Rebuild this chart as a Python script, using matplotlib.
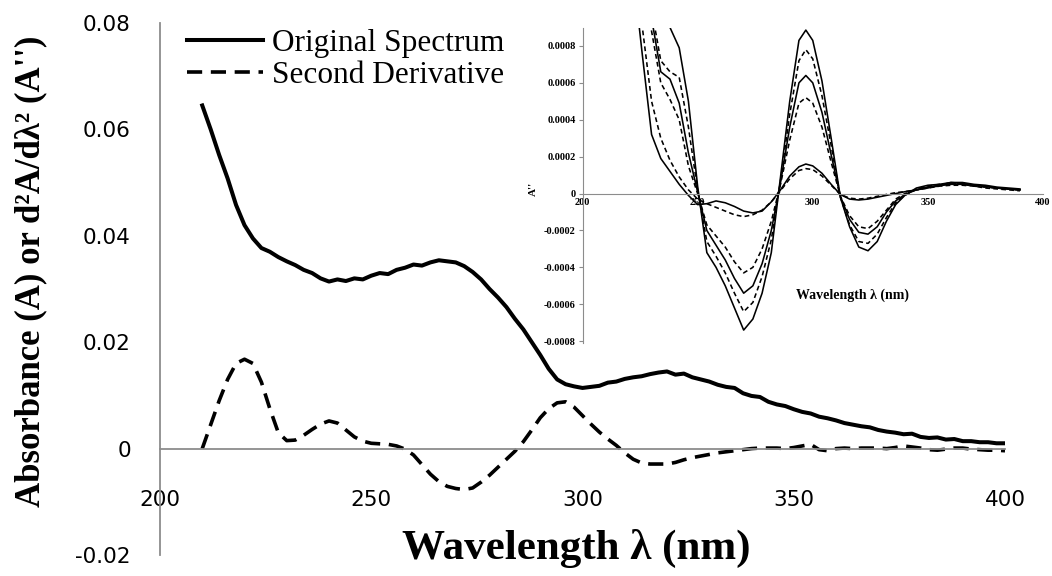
import numpy as np
import matplotlib
matplotlib.use("Agg")
import matplotlib.pyplot as plt
from matplotlib.lines import Line2D

plt.rcParams["axes.unicode_minus"] = False

# ---- main spectrum (absorbance) and its second derivative, 2 nm steps ----
wavelength = np.arange(210, 401, 2)
absorbance = [
    0.0645, 0.0600, 0.0552, 0.0508, 0.0458, 0.0420, 0.0395, 0.0377, 0.0370, 0.0360,
    0.0352, 0.0345, 0.0336, 0.0330, 0.0320, 0.0314, 0.0318, 0.0315, 0.0320, 0.0318,
    0.0325, 0.0330, 0.0328, 0.0336, 0.0340, 0.0346, 0.0344, 0.0350, 0.0354, 0.0352,
    0.0350, 0.0343, 0.0332, 0.0318, 0.0300, 0.0284, 0.0266, 0.0244, 0.0224, 0.0200,
    0.0176, 0.0150, 0.0130, 0.0121, 0.0117, 0.0114, 0.0116, 0.0118, 0.0124, 0.0126,
    0.0131, 0.0134, 0.0136, 0.0140, 0.0143, 0.0145, 0.0139, 0.0141, 0.0134, 0.0130,
    0.0126, 0.0120, 0.0116, 0.0114, 0.0104, 0.0099, 0.0097, 0.0088, 0.0083, 0.0080,
    0.0074, 0.0069, 0.0066, 0.0060, 0.0057, 0.0053, 0.0048, 0.0045, 0.0042, 0.0040,
    0.0035, 0.0032, 0.0030, 0.0027, 0.0028, 0.0022, 0.0020, 0.0021, 0.0017, 0.0018,
    0.0014, 0.0014, 0.0012, 0.0012, 0.0010, 0.0010,
]
second_deriv = [
    0.0000, 0.0045, 0.0090, 0.0130, 0.0160, 0.0168, 0.0160, 0.0125, 0.0075, 0.0030,
    0.0015, 0.0016, 0.0025, 0.0036, 0.0046, 0.0052, 0.0048, 0.0035, 0.0022, 0.0014,
    0.0010, 0.0009, 0.0008, 0.0005, -0.0001, -0.0012, -0.0030, -0.0048, -0.0062, -0.0071,
    -0.0075, -0.0077, -0.0074, -0.0063, -0.0050, -0.0035, -0.0020, -0.0005, 0.0013, 0.0035,
    0.0058, 0.0075, 0.0086, 0.0088, 0.0078, 0.0062, 0.0046, 0.0031, 0.0018, 0.0006,
    -0.0008, -0.0020, -0.0027, -0.0029, -0.0029, -0.0029, -0.0026, -0.0021, -0.0017, -0.0014,
    -0.0011, -0.0008, -0.0006, -0.0004, -0.0002, 0.0000, 0.0001, 0.0001, 0.0001, 0.0000,
    0.0002, 0.0005, 0.0008, -0.0002, -0.0004, 0.0000, 0.0001, 0.0000, 0.0001, 0.0001,
    0.0001, 0.0000, 0.0002, 0.0005, 0.0003, 0.0001, -0.0002, -0.0003, -0.0001, 0.0001,
    0.0001, -0.0001, -0.0002, -0.0003, -0.0003, -0.0004,
]

main_xticks = [200, 250, 300, 350, 400]
main_yticks = [-0.02, 0, 0.02, 0.04, 0.06, 0.08]
main_ylabels = ["-0.02", "0", "0.02", "0.04", "0.06", "0.08"]
legend_labels = ["Original Spectrum", "Second Derivative"]

# ---- inset: second derivatives of three samples (units of 1e-4) ----
inset_wl = [222, 226, 230, 234, 238, 242, 246, 250, 254, 258, 262, 266, 270, 274,
            278, 282, 286, 290, 294, 297, 300, 304, 308, 312, 316, 320, 324, 328,
            332, 336, 340, 345, 350, 355, 360, 365, 370, 375, 380, 385, 390]
solid_large = [20, 18, 15, 10.5, 9.0, 7.9, 5.0, 0.4, -3.2, -4.0, -5.0, -6.2, -7.4, -6.8,
               -5.4, -3.2, 0.9, 5.0, 8.3, 8.86, 8.3, 6.1, 3.0, -0.2, -1.8, -2.9, -3.1, -2.6,
               -1.5, -0.6, -0.1, 0.3, 0.45, 0.5, 0.6, 0.55, 0.45, 0.4, 0.3, 0.25, 0.2]
dashed_large = [17, 14, 10, 7.2, 6.6, 6.3, 3.6, 0.2, -2.6, -3.4, -4.3, -5.4, -6.4, -5.9,
                -4.5, -2.5, 0.7, 4.3, 7.2, 7.8, 7.3, 5.3, 2.6, -0.2, -1.7, -2.6, -2.7, -2.2,
                -1.3, -0.5, -0.1, 0.25, 0.4, 0.5, 0.55, 0.5, 0.45, 0.35, 0.3, 0.25, 0.2]
solid_mid = [16, 12.5, 9.5, 6.6, 6.2, 4.9, 2.2, 0.1, -2.0, -2.8, -3.6, -4.6, -5.4, -5.0,
             -3.8, -2.0, 0.6, 3.6, 6.0, 6.4, 6.0, 4.4, 2.1, -0.15, -1.4, -2.1, -2.2, -1.8,
             -1.0, -0.4, -0.05, 0.2, 0.35, 0.45, 0.5, 0.5, 0.45, 0.4, 0.3, 0.25, 0.2]
dashed_mid = [15, 11.5, 8.8, 6.0, 5.1, 4.0, 1.5, 0.0, -1.7, -2.3, -2.9, -3.7, -4.3, -4.0,
              -3.0, -1.5, 0.5, 2.9, 4.9, 5.2, 4.9, 3.6, 1.7, -0.15, -1.2, -1.8, -1.9, -1.5,
              -0.9, -0.3, 0.0, 0.2, 0.35, 0.4, 0.55, 0.5, 0.4, 0.35, 0.3, 0.25, 0.2]
solid_small = [12, 7.5, 3.2, 1.9, 1.2, 0.5, -0.1, -0.6, -0.55, -0.4, -0.5, -0.7, -0.95, -1.05,
               -0.95, -0.45, 0.2, 0.95, 1.45, 1.6, 1.5, 1.1, 0.5, -0.05, -0.3, -0.35, -0.3, -0.2,
               -0.1, 0.0, 0.1, 0.2, 0.3, 0.45, 0.6, 0.6, 0.5, 0.45, 0.35, 0.3, 0.25]
dashed_small = [12, 9, 5.0, 3.0, 1.8, 0.9, 0.2, -0.3, -0.55, -0.75, -0.95, -1.15, -1.25, -1.15,
                -0.9, -0.45, 0.15, 0.8, 1.25, 1.35, 1.3, 0.95, 0.45, -0.05, -0.25, -0.3, -0.25, -0.15,
                -0.05, 0.05, 0.1, 0.2, 0.3, 0.4, 0.45, 0.45, 0.4, 0.3, 0.25, 0.2, 0.15]

inset_xticks = [200, 250, 300, 350, 400]
inset_yticks = [-0.0008, -0.0006, -0.0004, -0.0002, 0, 0.0002, 0.0004, 0.0006, 0.0008]

SERIF = "Liberation Serif"
SANS = "DejaVu Sans"
AXIS_GREY = "#8c8c8c"
W, H = 1052, 576

fig = plt.figure(figsize=(W / 100, H / 100), dpi=100)

# ---- main axes ----
ax = fig.add_axes([160 / W, 21 / H, 845 / W, 532 / H])
ax.plot(wavelength, absorbance, color="black", lw=2.9, solid_joinstyle="round")
ax.plot(wavelength, second_deriv, color="black", lw=2.6, dashes=(4.2, 2.4))
ax.set_xlim(200, 400)
ax.set_ylim(-0.02, 0.08)
for side in ("top", "right"):
    ax.spines[side].set_visible(False)
ax.spines["bottom"].set_position(("data", 0))
for side in ("left", "bottom"):
    ax.spines[side].set_color(AXIS_GREY)
    ax.spines[side].set_linewidth(1.3)
ax.set_xticks(main_xticks)
ax.set_xticklabels([str(t) for t in main_xticks], fontfamily=SANS, fontsize=15.5)
ax.set_yticks(main_yticks)
ax.set_yticklabels(main_ylabels, fontfamily=SANS, fontsize=15.5)
ax.tick_params(axis="x", length=0, pad=30)
ax.tick_params(axis="y", length=0, pad=21)

fig.text(31 / W, 1 - 271 / H, "Absorbance (A) or d\u00b2A/d\u03bb\u00b2 (A'')",
         rotation=90, ha="center", va="center", fontfamily=SERIF,
         fontweight="bold", fontsize=25)
fig.text(576 / W, 1 - 548 / H, "Wavelength \u03bb (nm)", ha="center", va="center",
         fontfamily=SERIF, fontweight="bold", fontsize=31)

# legend drawn in figure pixels: line sample then label
legend_styles = [dict(lw=2.9), dict(lw=2.6, dashes=(4.2, 2.4))]
for i, (label, style) in enumerate(zip(legend_labels, legend_styles)):
    yy = 1 - (40 + 32 * i) / H
    fig.add_artist(Line2D([187 / W, 263 / W], [yy, yy], transform=fig.transFigure,
                          color="black", **style))
    fig.text(272 / W, yy, label, ha="left", va="center_baseline",
             fontfamily=SERIF, fontsize=22.5)

# ---- inset ----
axi = fig.add_axes([582.5 / W, 233 / H, 460.5 / W, 315.5 / H])
scale = 1e-4
inset_series = [
    (solid_large, "-"), (dashed_large, "--"),
    (solid_mid, "-"), (dashed_mid, "--"),
    (solid_small, "-"), (dashed_small, "--"),
]
for vals, style in inset_series:
    y = np.array(vals) * scale
    if style == "-":
        axi.plot(inset_wl, y, color="black", lw=1.15)
    else:
        axi.plot(inset_wl, y, color="black", lw=1.15, dashes=(3.0, 2.0))
axi.set_xlim(200, 400)
axi.set_ylim(-0.00081, 0.0009)
for side in ("top", "right"):
    axi.spines[side].set_visible(False)
axi.spines["bottom"].set_position(("data", 0))
for side in ("left", "bottom"):
    axi.spines[side].set_color(AXIS_GREY)
    axi.spines[side].set_linewidth(0.8)
axi.set_xticks(inset_xticks)
axi.set_xticklabels([str(t) for t in inset_xticks], fontfamily=SERIF,
                    fontweight="bold", fontsize=7.5)
axi.set_yticks(inset_yticks)
axi.set_yticklabels(["0" if t == 0 else f"{t:.4f}" for t in inset_yticks],
                    fontfamily=SERIF, fontweight="bold", fontsize=7.5)
axi.tick_params(axis="y", length=3, width=0.8, color=AXIS_GREY, pad=2)
axi.tick_params(axis="x", length=0, pad=3)
axi.text(-0.107, 0.49, "A''", rotation=90, transform=axi.transAxes,
         ha="center", va="center", fontfamily=SERIF, fontweight="bold", fontsize=8)
axi.text(0.587, 0.152, "Wavelength \u03bb (nm)", transform=axi.transAxes,
         ha="center", va="center", fontfamily=SERIF, fontweight="bold", fontsize=10)

fig.savefig("out.png", dpi=100)
